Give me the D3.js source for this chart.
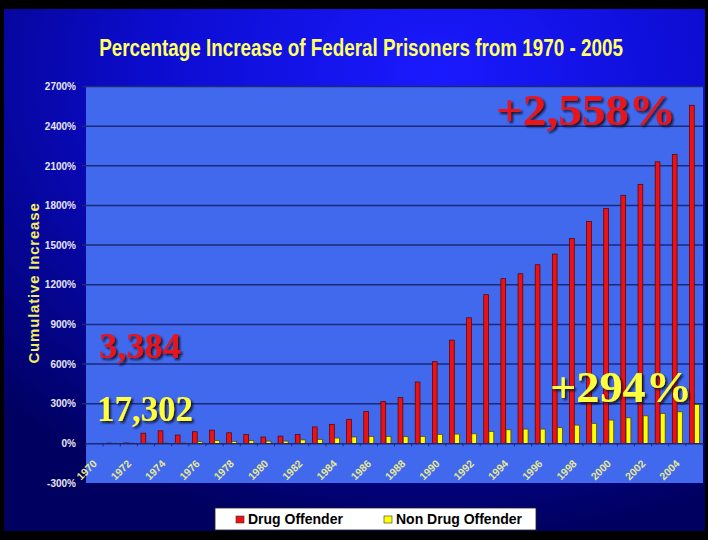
<!DOCTYPE html>
<html>
<head>
<meta charset="utf-8">
<script src="https://cdn.jsdelivr.net/npm/d3@7"></script>
<style>
  body { margin: 0; background: #000; }
  svg { display: block; }
</style>
</head>
<body>
<svg id="chart"></svg>
<script>
// data
const years = [1970, 1971, 1972, 1973, 1974, 1975, 1976, 1977, 1978, 1979,
  1980, 1981, 1982, 1983, 1984, 1985, 1986, 1987, 1988, 1989,
  1990, 1991, 1992, 1993, 1994, 1995, 1996, 1997, 1998, 1999,
  2000, 2001, 2002, 2003, 2004, 2005];
const drugOffender = [0, 2, 3, 77, 95, 63, 88, 100, 80, 68,
  48, 55, 68, 124, 144, 182, 240, 316, 346, 464,
  618, 781, 950, 1125, 1246, 1283, 1351, 1432, 1550, 1678,
  1776, 1877, 1960, 2130, 2186, 2558];
const nonDrugOffender = [0, 1, 2, 2, 3, 4, 12, 20, 15, 20,
  17, 17, 26, 30, 40, 48, 52, 53, 50, 53,
  68, 70, 72, 90, 103, 108, 108, 118, 138, 151,
  176, 193, 208, 226, 238, 294];
const yTicks = [-300, 0, 300, 600, 900, 1200, 1500, 1800, 2100, 2400, 2700];
const xTickYears = [1970, 1972, 1974, 1976, 1978, 1980, 1982, 1984, 1986, 1988,
  1990, 1992, 1994, 1996, 1998, 2000, 2002, 2004];
const seriesNames = ["Drug Offender", "Non Drug Offender"];
const seriesColors = ["#ee1111", "#ffff00"];

const W = 708, H = 540;
const plot = { left: 86, right: 703, top: 86.5, bottom: 483 };

const svg = d3.select("#chart").attr("width", W).attr("height", H);

// background
const defs = svg.append("defs");
const bg = defs.append("radialGradient").attr("id", "bg")
  .attr("cx", 0.62).attr("cy", 0.12).attr("r", 0.9);
bg.append("stop").attr("offset", 0).attr("stop-color", "#1a1aff");
bg.append("stop").attr("offset", 0.45).attr("stop-color", "#0c0cd0");
bg.append("stop").attr("offset", 0.8).attr("stop-color", "#04048a");
bg.append("stop").attr("offset", 1).attr("stop-color", "#000060");

const shadow = defs.append("filter").attr("id", "shadow")
  .attr("x", "-10%").attr("y", "-20%").attr("width", "130%").attr("height", "150%");
shadow.append("feDropShadow")
  .attr("dx", 2).attr("dy", 2).attr("stdDeviation", 0.8)
  .attr("flood-color", "#10101c").attr("flood-opacity", 0.9);

svg.append("rect").attr("width", W).attr("height", H).attr("fill", "#000");
svg.append("rect").attr("x", 4).attr("y", 9).attr("width", 701).attr("height", 522)
  .attr("fill", "url(#bg)");

// scales
const x = d3.scaleBand().domain(years).range([plot.left, plot.right]);
const xs = d3.scaleBand().domain([0, 1]).range([-5, 5]).paddingInner(0.08);
const y = d3.scaleLinear().domain([-300, 2700]).range([plot.bottom, plot.top]);

// plot area
svg.append("rect")
  .attr("x", plot.left).attr("y", plot.top)
  .attr("width", plot.right - plot.left).attr("height", plot.bottom - plot.top)
  .attr("fill", "#4169ee");

// gridlines
svg.append("g")
  .selectAll("line")
  .data(yTicks.filter((d) => d > 0))
  .join("line")
  .attr("x1", plot.left - 4).attr("x2", plot.right)
  .attr("y1", (d) => y(d)).attr("y2", (d) => y(d))
  .attr("stroke", "#1c2878").attr("stroke-width", 1.5);

// y axis labels
const yAxis = d3.axisLeft(y).tickValues(yTicks).tickSize(0).tickPadding(10)
  .tickFormat((d) => d + "%");
const gy = svg.append("g").attr("transform", "translate(" + plot.left + ",0)").call(yAxis);
gy.select(".domain").remove();
gy.selectAll("text")
  .attr("fill", "#e6e6f2")
  .attr("font-family", "'Liberation Sans', Arial, sans-serif")
  .attr("font-weight", "bold")
  .attr("font-size", 10);

// bars
const series = [drugOffender, nonDrugOffender];
series.forEach((vals, si) => {
  svg.append("g")
    .selectAll("rect")
    .data(years)
    .join("rect")
    .attr("x", (d) => x(d) + x.bandwidth() / 2 + xs(si))
    .attr("width", xs.bandwidth())
    .attr("y", (d, i) => y(vals[i]))
    .attr("height", (d, i) => y(0) - y(vals[i]))
    .attr("fill", seriesColors[si])
    .attr("stroke", si === 0 ? "#500000" : "#504000")
    .attr("stroke-width", 0.7);
});

// x axis at 0%
const xAxis = d3.axisBottom(x).tickSize(0).tickFormat("");
const gx = svg.append("g").attr("transform", "translate(0," + y(0) + ")").call(xAxis);
gx.select(".domain").attr("stroke", "#1c2878").attr("stroke-width", 1.5);
gx.selectAll(".tick").remove();
gx.selectAll("line.cat")
  .data(years.concat([null]))
  .join("line")
  .attr("class", "cat")
  .attr("x1", (d, i) => plot.left + i * x.step())
  .attr("x2", (d, i) => plot.left + i * x.step())
  .attr("y1", 0).attr("y2", 3)
  .attr("stroke", "#1c2878");

svg.append("g")
  .selectAll("text")
  .data(xTickYears)
  .join("text")
  .attr("transform", (d) =>
    "translate(" + (x(d) + x.bandwidth() / 2 + 3) + "," + (y(0) + 21) + ") rotate(-45)")
  .attr("text-anchor", "end")
  .attr("fill", "#e8e88c")
  .attr("font-family", "'Liberation Sans', Arial, sans-serif")
  .attr("font-weight", "bold")
  .attr("font-size", 10.5)
  .text((d) => d);

// title, condensed like the narrow face in the original
svg.append("text")
  .attr("transform", "translate(361,56) scale(0.82,1)")
  .attr("text-anchor", "middle")
  .attr("fill", "#ffff66")
  .attr("font-family", "'Liberation Sans', Arial, sans-serif")
  .attr("font-weight", "bold")
  .attr("font-size", 23)
  .text("Percentage Increase of Federal Prisoners from 1970 - 2005");

// y axis title
svg.append("text")
  .attr("transform", "translate(39,283) rotate(-90)")
  .attr("text-anchor", "middle")
  .attr("fill", "#f0f060")
  .attr("font-family", "'Liberation Sans', Arial, sans-serif")
  .attr("font-weight", "bold")
  .attr("font-size", 15)
  .attr("letter-spacing", 0.8)
  .text("Cumulative Increase");

// big annotations
const notes = [
  { t: "+2,558%", x: 496, y: 125, w: 180, size: 44, c: "#e8141a" },
  { t: "3,384", x: 99, y: 358, w: 82, size: 36, c: "#e8141a" },
  { t: "17,302", x: 97, y: 421, w: 96, size: 36, c: "#ffff3a" },
  { t: "+294%", x: 550, y: 402, w: 142, size: 45, c: "#ffff3a" },
];
svg.append("g")
  .selectAll("text")
  .data(notes)
  .join("text")
  .attr("x", (d) => d.x).attr("y", (d) => d.y)
  .attr("fill", (d) => d.c)
  .attr("filter", "url(#shadow)")
  .attr("font-family", "'Liberation Serif', 'Times New Roman', serif")
  .attr("font-weight", "bold")
  .attr("font-size", (d) => d.size)
  .attr("textLength", (d) => d.w)
  .attr("lengthAdjust", "spacingAndGlyphs")
  .text((d) => d.t);

// legend
const lg = svg.append("g");
lg.append("rect").attr("x", 215).attr("y", 508).attr("width", 321).attr("height", 22)
  .attr("fill", "#fff").attr("stroke", "#222").attr("stroke-width", 0.8);
const legendX = [236, 384];
seriesNames.forEach((name, i) => {
  lg.append("rect").attr("x", legendX[i]).attr("y", 516).attr("width", 8).attr("height", 7)
    .attr("fill", seriesColors[i]).attr("stroke", "#333").attr("stroke-width", 0.6);
  lg.append("text").attr("x", legendX[i] + 12).attr("y", 524)
    .attr("fill", "#000")
    .attr("font-family", "'Liberation Sans', Arial, sans-serif")
    .attr("font-weight", "bold")
    .attr("font-size", 14)
    .text(name);
});
</script>
</body>
</html>
